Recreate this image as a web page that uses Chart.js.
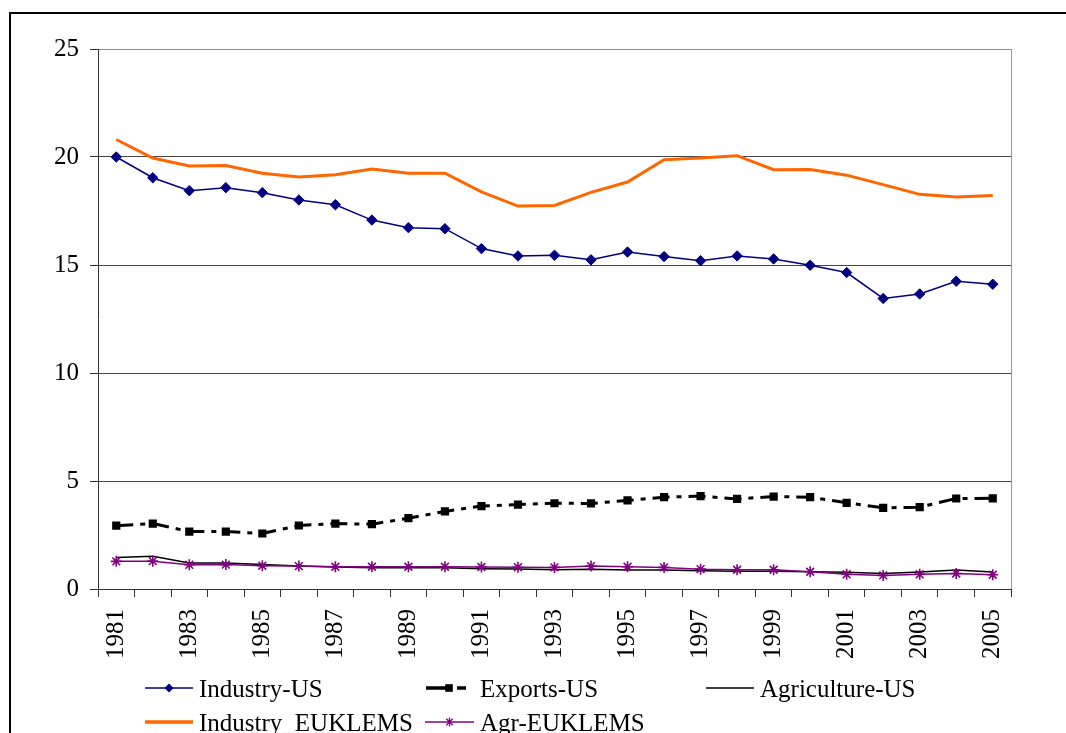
<!DOCTYPE html>
<html>
<head>
<meta charset="utf-8">
<script src="https://cdn.jsdelivr.net/npm/chart.js@4.4.1/dist/chart.umd.min.js"></script>
<style>
  html, body { margin: 0; padding: 0; background: #fff; }
  #wrap { position: relative; width: 1066px; height: 733px; overflow: hidden; }
  #frame { position: absolute; left: 9px; top: 12px; right: -10px; bottom: -10px; border-left: 2px solid #000; border-top: 2px solid #000; }
  #chart { position: absolute; left: 0; top: 0; }
  .lg-sym { position: absolute; }
  .lg-txt { position: absolute; font-family: 'Liberation Serif', 'Times New Roman', serif; font-size: 25px; line-height: 25px; color: #000; white-space: nowrap; }
</style>
</head>
<body>
<div id="wrap">
  <div id="frame"></div>
  <canvas id="chart" width="1066" height="733"></canvas>
  <div id="legend"></div>
</div>
<script>
// ===== DATA =====
const years = ['1981','1982','1983','1984','1985','1986','1987','1988','1989','1990','1991','1992','1993',
  '1994','1995','1996','1997','1998','1999','2000','2001','2002','2003','2004','2005'];
const yTickValues = [0, 5, 10, 15, 20, 25];

const industryUS = [20.0, 19.04, 18.44, 18.58, 18.35, 18.01, 17.79, 17.08, 16.73, 16.68, 15.76, 15.42, 15.45,
  15.24, 15.6, 15.39, 15.2, 15.42, 15.28, 14.99, 14.65, 13.45, 13.66, 14.25, 14.11];
const exportsUS = [2.93, 3.03, 2.66, 2.66, 2.57, 2.94, 3.03, 3.0, 3.28, 3.59, 3.84, 3.91, 3.97,
  3.96, 4.1, 4.25, 4.3, 4.17, 4.28, 4.25, 3.99, 3.76, 3.79, 4.19, 4.2];
const agricultureUS = [1.46, 1.52, 1.2, 1.2, 1.14, 1.06, 1.02, 0.98, 0.98, 0.98, 0.94, 0.93, 0.89,
  0.91, 0.88, 0.88, 0.85, 0.82, 0.82, 0.8, 0.77, 0.72, 0.79, 0.88, 0.79];
const industryEUKLEMS = [20.81, 19.95, 19.58, 19.61, 19.25, 19.07, 19.18, 19.44, 19.25, 19.25, 18.39, 17.73, 17.76,
  18.36, 18.84, 19.87, 19.95, 20.06, 19.41, 19.42, 19.16, 18.72, 18.27, 18.15, 18.22];
const agrEUKLEMS = [1.28, 1.29, 1.12, 1.13, 1.08, 1.06, 1.03, 1.03, 1.03, 1.03, 1.02, 1.01, 1.0,
  1.06, 1.03, 1.0, 0.92, 0.89, 0.89, 0.8, 0.68, 0.63, 0.68, 0.72, 0.66];

const NAVY = '#000080', ORANGE = '#FF6600', PURPLE = '#800080', BLACK = '#000000';
const SERIF = "'Liberation Serif', 'Times New Roman', serif";
const EXPORT_DASH = [17, 7, 5, 7];

// ===== CHART =====
new Chart(document.getElementById('chart'), {
  type: 'line',
  data: {
    labels: years,
    datasets: [
      { label: 'Industry-US', data: industryUS, borderColor: NAVY, backgroundColor: NAVY, borderWidth: 1.5,
        pointStyle: 'rectRot', pointRadius: 5.2, pointBorderWidth: 1, order: 5 },
      { label: 'Exports-US', data: exportsUS, borderColor: BLACK, backgroundColor: BLACK, borderWidth: 3,
        borderDash: EXPORT_DASH, pointStyle: 'rect', pointRadius: 5.8, pointBorderWidth: 0, order: 4 },
      { label: 'Agriculture-US', data: agricultureUS, borderColor: BLACK, borderWidth: 1.5, pointRadius: 0, order: 3 },
      { label: 'Industry_EUKLEMS', data: industryEUKLEMS, borderColor: ORANGE, borderWidth: 3, pointRadius: 0, order: 2 },
      { label: 'Agr-EUKLEMS', data: agrEUKLEMS, borderColor: PURPLE, backgroundColor: PURPLE, borderWidth: 1.5,
        pointStyle: 'star', pointRadius: 5.5, pointBorderWidth: 1.6, order: 1 }
    ]
  },
  options: {
    responsive: false,
    devicePixelRatio: 1,
    animation: false,
    layout: { padding: { left: 0, top: 49, right: 55, bottom: 0 } },
    elements: { line: { tension: 0, fill: false } },
    plugins: { legend: { display: false }, tooltip: { enabled: false } },
    scales: {
      x: {
        type: 'category',
        offset: true,
        afterFit: s => { s.height = 144; },
        border: { color: '#333', width: 1 },
        grid: {
          offset: true,
          drawOnChartArea: true,
          color: ctx => ctx.type === 'scale' ? '#999' : 'rgba(0,0,0,0)',
          tickColor: '#333',
          tickLength: 8
        },
        ticks: {
          autoSkip: false, maxRotation: 90, minRotation: 90, padding: 12,
          color: '#000', font: { family: SERIF, size: 25 },
          callback: (v, i) => i % 2 === 0 ? years[i] : ''
        }
      },
      y: {
        min: 0, max: 25,
        afterFit: s => { s.width = 98; },
        afterBuildTicks: s => { s.ticks = yTickValues.map(v => ({ value: v })); },
        border: { color: '#333', width: 1 },
        grid: {
          color: ctx => ctx.tick && ctx.tick.value === 25 ? '#8c8c8c' : '#444',
          tickColor: '#333',
          tickLength: 8
        },
        ticks: { padding: 11, color: '#000', font: { family: SERIF, size: 25 } }
      }
    }
  }
});

// ===== LEGEND (grid layout like the original) =====
const legendItems = [
  { text: 'Industry-US', x: 145, w: 48, row: 0, color: NAVY, lw: 1.5, marker: 'diamond' },
  { text: 'Exports-US', x: 426, w: 40, row: 0, color: BLACK, lw: 3.5, marker: 'square', dashed: true, tx: 480 },
  { text: 'Agriculture-US', x: 706, w: 48, row: 0, color: BLACK, lw: 1.5, tx: 760 },
  { text: 'Industry_EUKLEMS', x: 145, w: 48, row: 1, color: ORANGE, lw: 3.5 },
  { text: 'Agr-EUKLEMS', x: 425, w: 49, row: 1, color: PURPLE, lw: 1.5, marker: 'star', tx: 480 }
];
const rowY = [688, 722];

const legendEl = document.getElementById('legend');
legendItems.forEach(it => {
  const cy = rowY[it.row];
  const h = 16;
  let line;
  if (it.dashed) {
    line = `<line x1="0" y1="${h/2}" x2="22" y2="${h/2}" stroke="${it.color}" stroke-width="${it.lw}"/>` +
           `<line x1="31" y1="${h/2}" x2="${it.w}" y2="${h/2}" stroke="${it.color}" stroke-width="${it.lw}"/>`;
  } else {
    line = `<line x1="0" y1="${h/2}" x2="${it.w}" y2="${h/2}" stroke="${it.color}" stroke-width="${it.lw}"/>`;
  }
  const mx = it.dashed ? 23 : it.w / 2, my = h / 2;
  let mark = '';
  if (it.marker === 'diamond') mark = `<polygon points="${mx},${my-4.5} ${mx+4.5},${my} ${mx},${my+4.5} ${mx-4.5},${my}" fill="${it.color}"/>`;
  if (it.marker === 'square') mark = `<rect x="${mx-3.8}" y="${my-3.8}" width="7.6" height="7.6" fill="${it.color}"/>`;
  if (it.marker === 'star') {
    const r = 4.5, d = r * 0.707;
    mark = `<path d="M${mx} ${my-r}V${my+r}M${mx-d} ${my-d}L${mx+d} ${my+d}M${mx-d} ${my+d}L${mx+d} ${my-d}" stroke="${it.color}" stroke-width="1.3"/>`;
  }
  legendEl.insertAdjacentHTML('beforeend',
    `<svg class="lg-sym" style="left:${it.x}px;top:${cy - h/2}px" width="${it.w}" height="${h}">${line}${mark}</svg>` +
    `<div class="lg-txt" style="left:${it.tx || 199}px;top:${cy - 12}px">${it.text}</div>`);
});
</script>
</body>
</html>
